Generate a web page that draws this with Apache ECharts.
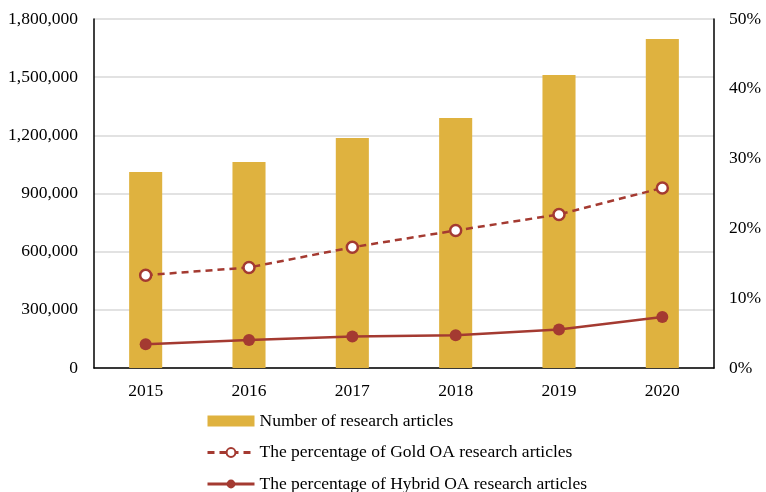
<!DOCTYPE html>
<html>
<head>
<meta charset="utf-8">
<script src="https://cdn.jsdelivr.net/npm/echarts@6/dist/echarts.min.js"></script>
<style>
  html, body { margin: 0; padding: 0; background: #fff; }
  #chart { width: 766px; height: 492px; }
</style>
</head>
<body>
<div id="chart"></div>
<script>
// data
var years = ['2015', '2016', '2017', '2018', '2019', '2020'];
var articleCounts = [1011000, 1062000, 1186000, 1289000, 1511000, 1697000];
var goldPct = [13.3, 14.4, 17.3, 19.7, 22.0, 25.8];
var hybridPct = [3.4, 4.0, 4.5, 4.7, 5.5, 7.3];

var FONT = '"Liberation Serif", "DejaVu Serif", serif';
var BAR = '#dfb23f';
var RED = '#a43a31';

var chart = echarts.init(document.getElementById('chart'));

var option = {
	animation: false,
	textStyle: { fontFamily: FONT },
	grid: {
		left: 94,
		right: 52,
		top: 19,
		bottom: 124
	},
	legend: {
		orient: 'vertical',
		left: 201,
		top: 407,
		height: 100,
		itemGap: 13.5,
		itemWidth: 47,
		itemHeight: 11,
		textStyle: { fontFamily: FONT, fontSize: 17.5, color: '#000' },
		lineStyle: { width: 3 },
		data: [
			{ name: 'Number of research articles', icon: 'rect' },
			'The percentage of Gold OA research articles',
			'The percentage of Hybrid OA research articles'
		]
	},
	xAxis: {
		type: 'category',
		data: years,
		axisLine: { show: true, lineStyle: { color: '#000', width: 1.5 } },
		axisTick: { show: false },
		axisLabel: { fontFamily: FONT, fontSize: 17.5, color: '#000', margin: 14 }
	},
	yAxis: [
		{
			type: 'value',
			min: 0,
			max: 1800000,
			interval: 300000,
			axisLine: { show: true, lineStyle: { color: '#000', width: 1.5 } },
			axisTick: { show: false },
			splitLine: { lineStyle: { color: '#d9d9d9', width: 1.5 } },
			axisLabel: {
				fontFamily: FONT, fontSize: 17.5, color: '#000', margin: 16,
				formatter: function (v) { return v.toLocaleString('en-US'); }
			}
		},
		{
			type: 'value',
			min: 0,
			max: 50,
			interval: 10,
			position: 'right',
			axisLine: { show: true, lineStyle: { color: '#000', width: 1.5 } },
			axisTick: { show: false },
			splitLine: { show: false },
			axisLabel: { fontFamily: FONT, fontSize: 17.5, color: '#000', margin: 15, formatter: '{value}%' }
		}
	],
	series: [
		{
			name: 'Number of research articles',
			type: 'bar',
			data: articleCounts,
			barWidth: '32%',
			itemStyle: { color: BAR }
		},
		{
			name: 'The percentage of Gold OA research articles',
			type: 'line',
			yAxisIndex: 1,
			data: goldPct,
			symbol: 'circle',
			symbolSize: 11,
			lineStyle: { color: RED, width: 2.5, type: [7, 5] },
			itemStyle: { color: '#fff', borderColor: RED, borderWidth: 2.5 }
		},
		{
			name: 'The percentage of Hybrid OA research articles',
			type: 'line',
			yAxisIndex: 1,
			data: hybridPct,
			symbol: 'circle',
			symbolSize: 12,
			lineStyle: { color: RED, width: 2.5 },
			itemStyle: { color: RED }
		}
	]
};

chart.setOption(option);
</script>
</body>
</html>
